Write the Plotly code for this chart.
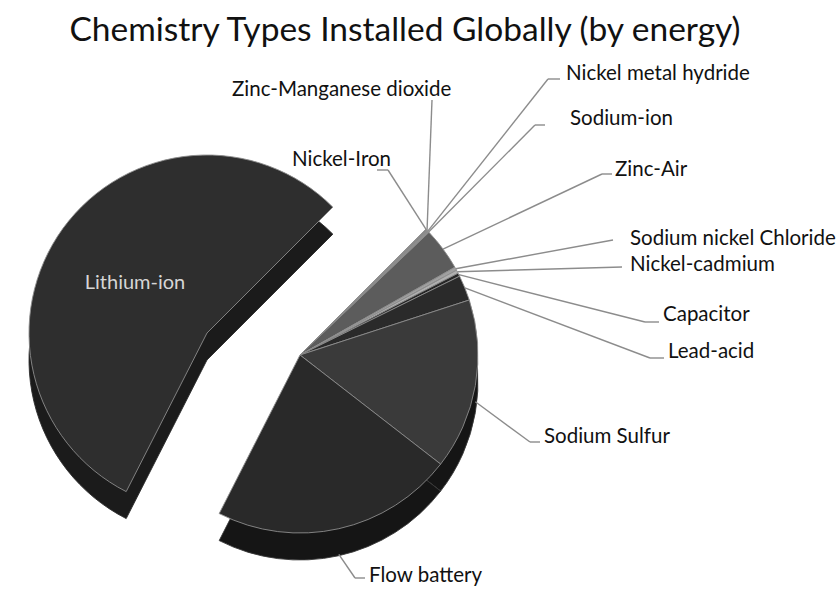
import math
import plotly.graph_objects as go

# ---- data (share of installed energy, %) ----
labels = ["Nickel-Iron", "Zinc-Manganese dioxide", "Nickel metal hydride", "Sodium-ion",
          "Zinc-Air", "Sodium nickel Chloride", "Nickel-cadmium", "Capacitor",
          "Lead-acid", "Sodium Sulfur", "Flow battery", "Lithium-ion"]
values = [0.1, 0.1, 0.1, 0.1, 3.9, 0.3, 0.3, 0.3, 2.3, 15.5, 22.0, 55.0]
exploded = "Lithium-ion"
title_text = "Chemistry Types Installed Globally (by energy)"

# ---- style / layout ----
W, H = 840, 590
FONT = "Lato, sans-serif"
top_colors = ["#7a7a7a", "#808080", "#8a8a8a", "#909090", "#5c5c5c", "#a0a0a0",
              "#b0b0b0", "#262626", "#2a2a2a", "#3a3a3a", "#292929", "#2e2e2e"]
side_main = "#151515"
side_exploded = "#1b1b1b"
rotation = 45
thick = 27
R = 178
C_main = (300, 355)     # pixel centre of the pie body
C_expl = (207, 333)     # pixel centre of the exploded slice
CLEAR = "rgba(0,0,0,0)"


def px2paper(x, y):
    return x / W, 1 - y / H


def clamp(v):
    return min(1.0, max(0.0, v))


def domain_for(c, dy=0):
    x0, y0 = px2paper(c[0] - R, c[1] + R + dy)
    x1, y1 = px2paper(c[0] + R, c[1] - R + dy)
    return dict(x=[clamp(x0), clamp(x1)], y=[clamp(y0), clamp(y1)])


def pie(center, show_exploded, colors, line_color, dy=0, text=None):
    vis = [(l == exploded) == show_exploded for l in labels]
    kw = dict(textinfo="none")
    if text is not None:
        kw = dict(text=[t if v else "" for t, v in zip(text, vis)], textinfo="text",
                  textposition="inside", insidetextorientation="horizontal",
                  textfont=dict(family=FONT, size=20, color="#d6d6d6"))
    return go.Pie(labels=labels, values=values, sort=False, direction="clockwise",
                  rotation=rotation, hoverinfo="skip", showlegend=False,
                  marker=dict(colors=[c if v else CLEAR for c, v in zip(colors, vis)],
                              line=dict(color=line_color, width=[0.9 if v else 0 for v in vis])),
                  domain=domain_for(center, dy), **kw)


fig = go.Figure()
fig.add_trace(pie(C_expl, True, [side_exploded] * len(values), "#2c2c2c", dy=thick))
fig.add_trace(pie(C_expl, True, top_colors, "#8c8c8c", text=labels))
fig.add_trace(pie(C_main, False, [side_main] * len(values), "#3a3a3a", dy=thick))
fig.add_trace(pie(C_main, False, top_colors, "#8c8c8c"))

# label placement (pixels): elbow point, leader end, text anchor point, text anchor side
label_layout = {
    "Nickel-Iron":            ((388, 170), (377, 170), (393, 158), "right"),
    "Zinc-Manganese dioxide": ((432, 100), (432, 100), (453, 88), "right"),
    "Nickel metal hydride":   ((548, 79), (560, 79), (564, 72), "left"),
    "Sodium-ion":             ((535, 125), (545, 125), (568, 117), "left"),
    "Zinc-Air":               ((602, 174), (612, 174), (613, 168), "left"),
    "Sodium nickel Chloride": ((613, 240), (613, 240), (628, 237), "left"),
    "Nickel-cadmium":         ((622, 267), (622, 267), (628, 263), "left"),
    "Capacitor":              ((645, 322), (659, 322), (661, 313), "left"),
    "Lead-acid":              ((650, 358), (664, 358), (666, 350), "left"),
    "Sodium Sulfur":          ((530, 442), (540, 442), (542, 435), "left"),
    "Flow battery":           ((355, 578), (365, 578), (367, 574), "left"),
}
on_side = {"Sodium Sulfur": 0.6, "Flow battery": 0.95}

total = sum(values)
shapes, annotations = [], []
cum = 0.0
for lab, v in zip(labels, values):
    mid = math.radians(rotation + 360 * (cum + v / 2) / total)
    cum += v
    if lab not in label_layout:
        continue
    ax = C_main[0] + R * math.sin(mid)
    ay = C_main[1] - R * math.cos(mid) + thick * on_side.get(lab, 0)
    (ex, ey), (lx, ly), (tx, ty), anchor = label_layout[lab]
    pts = [(ax, ay), (ex, ey), (lx, ly)]
    for (x0, y0), (x1, y1) in zip(pts[:-1], pts[1:]):
        if (x0, y0) == (x1, y1):
            continue
        X0, Y0 = px2paper(x0, y0)
        X1, Y1 = px2paper(x1, y1)
        shapes.append(dict(type="line", xref="paper", yref="paper", x0=X0, y0=Y0, x1=X1, y1=Y1,
                           line=dict(color="#8c8c8c", width=1.4)))
    TX, TY = px2paper(tx, ty)
    annotations.append(dict(x=TX, y=TY, xref="paper", yref="paper", text=lab, showarrow=False,
                            xanchor=anchor, yanchor="middle",
                            font=dict(family=FONT, size=20.5, color="#111111")))

fig.update_layout(
    width=W, height=H, margin=dict(l=0, r=0, t=0, b=0),
    paper_bgcolor="white", plot_bgcolor="white",
    title=dict(text=title_text, x=405 / W, xanchor="center", y=1 - 29 / H, yanchor="middle",
               font=dict(family=FONT, size=33.5, color="#111111")),
    shapes=shapes, annotations=annotations, showlegend=False,
)
fig.write_html("out.html")
